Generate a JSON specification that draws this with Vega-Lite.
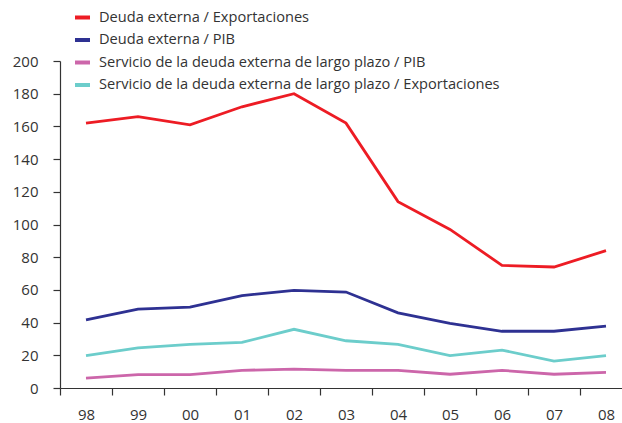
{
  "$schema": "https://vega.github.io/schema/vega-lite/v6.json",
  "width": 562,
  "height": 327,
  "autosize": {"type": "none"},
  "padding": {"left": 60, "top": 61, "right": 0, "bottom": 35},
  "background": "white",
  "config": {
    "view": {"stroke": null},
    "font": "Open Sans",
    "axis": {"grid": false, "domainColor": "#333333", "tickColor": "#333333", "labelColor": "#333333", "labelFontSize": 15, "domainWidth": 1.2, "tickWidth": 1.2, "tickSize": 7, "title": null}
  },
  "data": {
    "values": [
      {"year": "98", "serie": "Deuda externa / Exportaciones", "value": 162},
      {"year": "99", "serie": "Deuda externa / Exportaciones", "value": 166},
      {"year": "00", "serie": "Deuda externa / Exportaciones", "value": 161},
      {"year": "01", "serie": "Deuda externa / Exportaciones", "value": 172},
      {"year": "02", "serie": "Deuda externa / Exportaciones", "value": 180},
      {"year": "03", "serie": "Deuda externa / Exportaciones", "value": 162},
      {"year": "04", "serie": "Deuda externa / Exportaciones", "value": 114},
      {"year": "05", "serie": "Deuda externa / Exportaciones", "value": 97},
      {"year": "06", "serie": "Deuda externa / Exportaciones", "value": 75},
      {"year": "07", "serie": "Deuda externa / Exportaciones", "value": 74},
      {"year": "08", "serie": "Deuda externa / Exportaciones", "value": 84},
      {"year": "98", "serie": "Deuda externa / PIB", "value": 41.6},
      {"year": "99", "serie": "Deuda externa / PIB", "value": 48.3},
      {"year": "00", "serie": "Deuda externa / PIB", "value": 49.5},
      {"year": "01", "serie": "Deuda externa / PIB", "value": 56.5},
      {"year": "02", "serie": "Deuda externa / PIB", "value": 59.7},
      {"year": "03", "serie": "Deuda externa / PIB", "value": 58.7},
      {"year": "04", "serie": "Deuda externa / PIB", "value": 46},
      {"year": "05", "serie": "Deuda externa / PIB", "value": 39.5},
      {"year": "06", "serie": "Deuda externa / PIB", "value": 34.7},
      {"year": "07", "serie": "Deuda externa / PIB", "value": 34.7},
      {"year": "08", "serie": "Deuda externa / PIB", "value": 37.9},
      {"year": "98", "serie": "Servicio de la deuda externa de largo plazo / PIB", "value": 6.1},
      {"year": "99", "serie": "Servicio de la deuda externa de largo plazo / PIB", "value": 8.2},
      {"year": "00", "serie": "Servicio de la deuda externa de largo plazo / PIB", "value": 8.2},
      {"year": "01", "serie": "Servicio de la deuda externa de largo plazo / PIB", "value": 10.8},
      {"year": "02", "serie": "Servicio de la deuda externa de largo plazo / PIB", "value": 11.6},
      {"year": "03", "serie": "Servicio de la deuda externa de largo plazo / PIB", "value": 10.8},
      {"year": "04", "serie": "Servicio de la deuda externa de largo plazo / PIB", "value": 10.8},
      {"year": "05", "serie": "Servicio de la deuda externa de largo plazo / PIB", "value": 8.4},
      {"year": "06", "serie": "Servicio de la deuda externa de largo plazo / PIB", "value": 10.8},
      {"year": "07", "serie": "Servicio de la deuda externa de largo plazo / PIB", "value": 8.4},
      {"year": "08", "serie": "Servicio de la deuda externa de largo plazo / PIB", "value": 9.6},
      {"year": "98", "serie": "Servicio de la deuda externa de largo plazo / Exportaciones", "value": 19.8},
      {"year": "99", "serie": "Servicio de la deuda externa de largo plazo / Exportaciones", "value": 24.5},
      {"year": "00", "serie": "Servicio de la deuda externa de largo plazo / Exportaciones", "value": 26.7},
      {"year": "01", "serie": "Servicio de la deuda externa de largo plazo / Exportaciones", "value": 27.9},
      {"year": "02", "serie": "Servicio de la deuda externa de largo plazo / Exportaciones", "value": 35.9},
      {"year": "03", "serie": "Servicio de la deuda externa de largo plazo / Exportaciones", "value": 28.9},
      {"year": "04", "serie": "Servicio de la deuda externa de largo plazo / Exportaciones", "value": 26.7},
      {"year": "05", "serie": "Servicio de la deuda externa de largo plazo / Exportaciones", "value": 19.8},
      {"year": "06", "serie": "Servicio de la deuda externa de largo plazo / Exportaciones", "value": 23.2},
      {"year": "07", "serie": "Servicio de la deuda externa de largo plazo / Exportaciones", "value": 16.5},
      {"year": "08", "serie": "Servicio de la deuda externa de largo plazo / Exportaciones", "value": 19.8}
    ]
  },
  "mark": {"type": "line", "strokeWidth": 2.8},
  "encoding": {
    "x": {
      "field": "year", "type": "ordinal",
      "sort": ["98","99","00","01","02","03","04","05","06","07","08"],
      "scale": {"type": "band", "range": [0, 572], "paddingInner": 0, "paddingOuter": 0},
      "axis": {"labelAngle": 0, "tickBand": "extent", "labelPadding": 12}
    },
    "y": {
      "field": "value", "type": "quantitative",
      "scale": {"domain": [0, 200], "nice": false},
      "axis": {"values": [0,20,40,60,80,100,120,140,160,180,200], "labelPadding": 15}
    },
    "color": {
      "field": "serie", "type": "nominal",
      "scale": {
        "domain": ["Deuda externa / Exportaciones", "Deuda externa / PIB", "Servicio de la deuda externa de largo plazo / PIB", "Servicio de la deuda externa de largo plazo / Exportaciones"],
        "range": ["#ED1C24", "#2E3192", "#CC66AA", "#6CCDCB"]
      },
      "legend": {
        "title": null, "orient": "none", "legendX": 13, "legendY": -53,
        "symbolType": "stroke", "symbolSize": 225, "symbolStrokeWidth": 4,
        "labelFontSize": 14.6, "labelColor": "#333333", "rowPadding": 4.5, "labelOffset": 7, "labelLimit": 600
      }
    }
  }
}
